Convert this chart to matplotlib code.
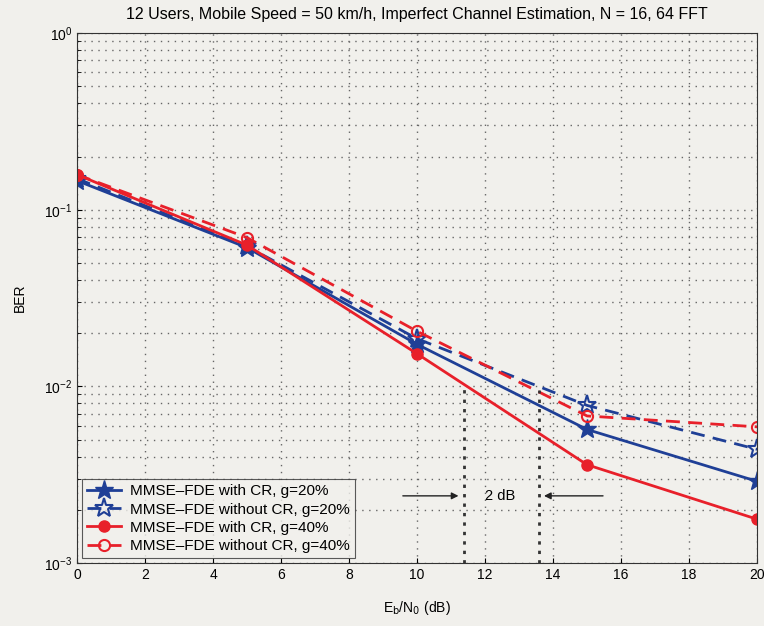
import numpy as np
import matplotlib
matplotlib.use("Agg")
import matplotlib.pyplot as plt

plt.rcParams['font.family'] = ['Liberation Sans', 'DejaVu Sans']

# Eb/N0 values (dB)
ebn0 = [0, 5, 10, 15, 20]

# BER curves
ber_cr_20 = [0.146, 0.061, 0.0173, 0.0057, 0.0029]
ber_nocr_20 = [0.150, 0.062, 0.0186, 0.0078, 0.0044]
ber_cr_40 = [0.158, 0.063, 0.0153, 0.0036, 0.00177]
ber_nocr_40 = [0.158, 0.0695, 0.0205, 0.0068, 0.0059]

labels = ["MMSE\u2013FDE with CR, g=20%",
          "MMSE\u2013FDE without CR, g=20%",
          "MMSE\u2013FDE with CR, g=40%",
          "MMSE\u2013FDE without CR, g=40%"]

blue = "#1f3f96"
red = "#e8202a"
bg = "#f1f0ec"
dash = (0, (5, 3))

fig = plt.figure(figsize=(7.64, 6.26), dpi=100, facecolor=bg)
ax = fig.add_axes([0.1008, 0.1006, 0.8902, 0.8466], facecolor=bg)

ax.semilogy(ebn0, ber_cr_20, '-', color=blue, lw=2, marker='*', ms=14,
            mfc=blue, mec=blue, label=labels[0])
ax.semilogy(ebn0, ber_nocr_20, ls=dash, color=blue, lw=2, marker='*', ms=14,
            mfc='none', mec=blue, mew=1.5, label=labels[1])
ax.semilogy(ebn0, ber_cr_40, '-', color=red, lw=2, marker='o', ms=8,
            mfc=red, mec=red, label=labels[2])
ax.semilogy(ebn0, ber_nocr_40, ls=dash, color=red, lw=2, marker='o', ms=8,
            mfc='none', mec=red, mew=1.5, label=labels[3])

ax.set_xlim(0, 20)
ax.set_ylim(1e-3, 1)
ax.set_xticks(np.arange(0, 21, 2))
grid_style = dict(ls=(0, (1, 4)), color='#666666', lw=1.0)
ax.grid(True, which='major', **grid_style)
ax.grid(True, which='minor', axis='y', **grid_style)
ax.tick_params(which='both', direction='in', labelsize=10)
ax.tick_params(which='minor', length=3)
for s in ax.spines.values():
    s.set_color('#333333')

# 2 dB annotation
ax.vlines([11.38, 13.6], [1e-3, 1e-3], [0.0103, 0.0095], colors='#333333',
          linestyles=[(0, (1.2, 2.2))], lw=2)
ax.annotate('', xy=(11.3, 0.0024), xytext=(9.5, 0.0024),
            arrowprops=dict(arrowstyle='-|>', color='#222222', lw=1))
ax.annotate('', xy=(13.65, 0.0024), xytext=(15.55, 0.0024),
            arrowprops=dict(arrowstyle='-|>', color='#222222', lw=1))
ax.text(12.45, 0.0024, '2 dB', ha='center', va='center', fontsize=10.5)

ax.set_title("12 Users, Mobile Speed = 50 km/h, Imperfect Channel Estimation, N = 16, 64 FFT",
             fontsize=11.5, pad=10)
ax.set_xlabel(r"E$_\mathrm{b}$/N$_\mathrm{0}$ (dB)", fontsize=10, labelpad=12)
ax.set_ylabel("BER", fontsize=10, labelpad=12)

leg = ax.legend(loc='lower left', fontsize=11, frameon=True, fancybox=False,
                edgecolor='#333333', facecolor=bg, borderaxespad=0.3,
                handlelength=2.2, labelspacing=0.28, borderpad=0.35,
                handletextpad=0.6)
leg.get_frame().set_linewidth(0.8)

fig.savefig("out.png", dpi=100, facecolor=bg)
